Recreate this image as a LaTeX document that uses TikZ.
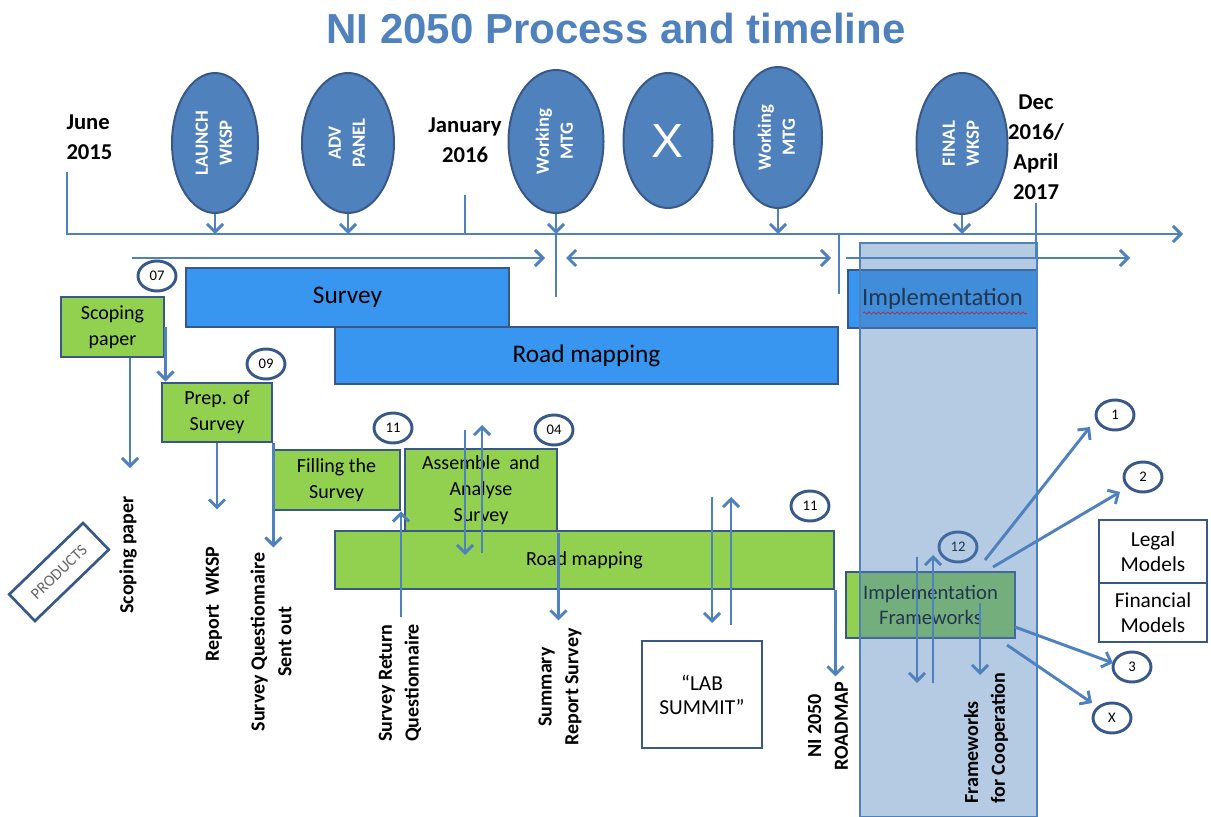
\documentclass[tikz,border=0pt]{standalone}
\usepackage{fontspec}
\setmainfont{Carlito}
\newfontfamily\headfont{Liberation Sans}
\usetikzlibrary{arrows.meta,shapes.geometric,decorations.pathmorphing}

\definecolor{accent}{RGB}{79,129,189}
\definecolor{edge}{RGB}{56,88,138}
\definecolor{sky}{RGB}{56,150,240}
\definecolor{leaf}{RGB}{146,208,80}

% two centred lines turned to read upwards
\newcommand{\vtext}[1]{\rotatebox{90}{\begin{tabular}{@{}c@{}}#1\end{tabular}}}

\tikzset{every picture/.style={line width=0.75pt}}
\tikzset{
  flow/.style={draw=accent, line width=2.2pt, -{Straight Barb[length=6pt,width=12pt]}},
  both/.style={draw=accent, line width=2.2pt, {Straight Barb[length=6pt,width=12pt]}-{Straight Barb[length=6pt,width=12pt]}},
  rule/.style={draw=accent, line width=2.2pt},
  meet/.style={ellipse, draw=edge, fill=accent, line width=1.5pt, text=white, inner sep=0pt, font=\bfseries\fontsize{14}{18}\selectfont},
  tag/.style={ellipse, draw=edge, fill=white, line width=2.2pt, minimum width=28.5pt, minimum height=22.5pt, inner sep=0pt, font=\fontsize{11}{12}\selectfont},
  phase/.style={draw=edge, fill=sky, line width=2.2pt, inner sep=0pt, font=\fontsize{19}{22}\selectfont},
  task/.style={draw=edge, fill=leaf, line width=2.2pt, inner sep=0pt, align=center, font=\fontsize{15}{19.5}\selectfont},
  note/.style={draw=edge, fill=white, line width=2.2pt, inner sep=0pt, align=center, font=\fontsize{16}{19}\selectfont},
  product/.style={rotate=90, inner sep=0pt, align=center, font=\bfseries\fontsize{15}{20}\selectfont},
  date/.style={inner sep=0pt, align=center, font=\bfseries\fontsize{17}{22.5}\selectfont},
}

\begin{document}
\begin{tikzpicture}[x=0.75pt,y=0.75pt,yscale=-1,xscale=1]
\useasboundingbox (0,0) rectangle (1211,817);

% heading
\node[inner sep=0pt, text=accent, font=\headfont\bfseries\fontsize{31.5}{36}\selectfont] (title) at (616,28) {NI 2050 Process and timeline};

% dates
\node[date, anchor=west, align=left] (june) at (66,137) {June\\2015};
\node[date] (jan) at (465,140) {January\\2016};
\node[date] (dec) at (1036,147) {Dec\\2016/\\April\\2017};

% meetings
\node[meet, minimum width=64.5pt, minimum height=105pt] (launch) at (215,143) {\vtext{LAUNCH\\WKSP}};
\node[meet, minimum width=69pt, minimum height=105pt] (adv) at (348,143) {\vtext{ADV\\PANEL}};
\node[meet, minimum width=71.25pt, minimum height=107.25pt] (work1) at (556,141.5) {\vtext{Working\\MTG}};
\node[meet, minimum width=66.75pt, minimum height=101.25pt, font=\headfont\fontsize{36}{40}\selectfont] (xmeet) at (668,140.5) {X};
\node[meet, minimum width=66pt, minimum height=105.75pt] (work2) at (778,137.5) {\vtext{Working\\MTG}};
\node[meet, minimum width=68.25pt, minimum height=105.75pt] (final) at (962,143.5) {\vtext{FINAL\\WKSP}};

% phases
\node[phase, minimum width=242.25pt, minimum height=44.25pt] (survey) at (347.5,297.5) {Survey};
\node[phase, minimum width=377.25pt, minimum height=42.75pt] (roadplan) at (586.5,355.5) {Road mapping};
\node[phase, minimum width=141.75pt, minimum height=43.5pt, font=\fontsize{18.5}{22}\selectfont] (impl) at (942.5,299) {Implementation};

% tasks
\node[task, minimum width=77.25pt, minimum height=45pt] (scoping) at (112.5,327) {Scoping\\paper};
\node[task, minimum width=82.5pt, minimum height=44.25pt] (prep) at (217,412.5) {Prep. of\\Survey};
\node[task, minimum width=95.25pt, minimum height=45pt] (filling) at (336.5,480) {Filling the\\Survey};
\node[task, minimum width=114pt, minimum height=62.25pt] (assemble) at (481,490.5) {Assemble~~and\\Analyse\\Survey};
\node[task, minimum width=374.25pt, minimum height=43.5pt] (roadwork) at (584.5,560) {Road mapping};
\node[task, minimum width=126.75pt, minimum height=49.5pt, font=\fontsize{15.5}{19}\selectfont] (frame) at (930.5,605) {Implementation\\Frameworks};

\node[note, minimum width=90pt, minimum height=80.25pt, font=\fontsize{16}{18}\selectfont] (lab) at (702,694.5) {“LAB\\SUMMIT”};
\node[note, minimum width=81pt, minimum height=47.25pt] (legal) at (1153,551.5) {Legal\\Models};
\node[note, minimum width=81pt, minimum height=44.25pt] (financial) at (1153,612.5) {Financial\\Models};

% month counts
\node[tag] (n07) at (157,276) {07};
\node[tag] (n09) at (266,364) {09};
\node[tag] (n11a) at (393,428) {11};
\node[tag] (n04) at (554,430) {04};
\node[tag] (n11b) at (810,506) {11};
\node[tag] (n12) at (958,547) {12};
\node[tag] (n1) at (1115,415) {1};
\node[tag] (n2) at (1143,477) {2};
\node[tag] (n3) at (1132,667) {3};
\node[tag] (nx) at (1112,718) {X};

\node[draw=edge, line width=2pt, rotate=44, minimum width=77pt, minimum height=27.75pt, inner sep=0pt, text=black!60, font=\fontsize{12}{14}\selectfont] (products) at (59,572) {PRODUCTS};

% spell-check squiggle
\draw[red!85!black, line width=0.6pt, decorate, decoration={snake, amplitude=0.8pt, segment length=3.5pt}] (863,313) -- (1027,313);

% implementation period
\draw[accent, line width=1.2pt, fill=accent, fill opacity=0.42] (860,243) rectangle (1037,817);

% products
\node[product] (lscoping) at (128,555) {Scoping paper};
\node[product] (lreport) at (214,604) {Report\ \ WKSP};
\node[product] (lquest) at (271,642) {Survey Questionnaire\\Sent out};
\node[product] (lreturn) at (400,683) {Survey Return\\Questionnaire};
\node[product] (lsummary) at (560,687) {Summary\\Report Survey};
\node[product] (lroadmap) at (828,726) {NI 2050\\ROADMAP};
\node[product, align=left] (lcoop) at (986,738) {Frameworks\\for Cooperation};

% timeline
\coordinate (junefoot) at (67,172);
\coordinate (start) at (67,234);
\coordinate (finish) at (1183,234);
\coordinate (janfoot) at (465,195);
\coordinate (decfoot) at (1036,203);
\draw[flow] (junefoot) -- (start) -- (finish);
\draw[rule] (janfoot) -- (janfoot |- start);
\draw[rule] (decfoot) -- ++(0,55);
\foreach \m in {launch,adv,work1,work2,final}
  \draw[flow] (\m.south) -- (\m.south |- start);

% periods
\coordinate (p1) at (132,258);
\coordinate (p2) at (545,258);
\coordinate (p3) at (566,258);
\coordinate (p4) at (831,258);
\coordinate (p5) at (846,258);
\coordinate (p6) at (1130,258);
\draw[flow] (p1) -- (p2);
\draw[both] (p3) -- (p4);
\draw[flow] (p5) -- (p6);
\draw[rule, line width=1.2pt] (work1.south |- start) -- ++(0,63);
\draw[rule, line width=1.2pt] (839,234) -- ++(0,60);

% task outputs
\coordinate (scopingout) at (130,468);
\draw[flow] (scopingout |- scoping.south) -- (scopingout);
\draw[flow] (scoping.east) -- (scoping.east |- prep.north);
\draw[flow] (prep.south) -- ++(0,66);
\draw[flow] (prep.south east) -- ++(0,104);
\coordinate (retfoot) at (401,617);
\draw[flow] (retfoot) -- (retfoot |- filling.south);
\coordinate (asmin) at (465,430);
\coordinate (asmout) at (482,553);
\draw[flow] (asmin) -- ++(0,125);
\draw[flow] (asmout) -- ++(0,-128);
\draw[flow] (assemble.south east) -- ++(0,87);
\coordinate (labin) at (712,497);
\coordinate (labout) at (731,625);
\draw[flow] (labin) -- ++(0,126);
\draw[flow] (labout) -- ++(0,-128);
\draw[flow] (roadwork.south east) -- ++(0,86);

% implementation frameworks
\coordinate (frin) at (917,557);
\coordinate (frout) at (933,683);
\coordinate (frcoop) at (980,603);
\draw[flow] (frin) -- ++(0,126);
\draw[flow] (frout) -- ++(0,-128);
\draw[flow] (frcoop) -- ++(0,72);
\coordinate (f1) at (985,560);
\coordinate (f2) at (993,567);
\coordinate (f3) at (1015,627);
\coordinate (f4) at (1007,645);
\coordinate (t1) at (1090,427);
\coordinate (t2) at (1120,492);
\coordinate (t3) at (1113,663);
\coordinate (t4) at (1092,703);
\draw[flow] (f1) -- (t1);
\draw[flow] (f2) -- (t2);
\draw[flow] (f3) -- (t3);
\draw[flow] (f4) -- (t4);

\end{tikzpicture}
\end{document}
